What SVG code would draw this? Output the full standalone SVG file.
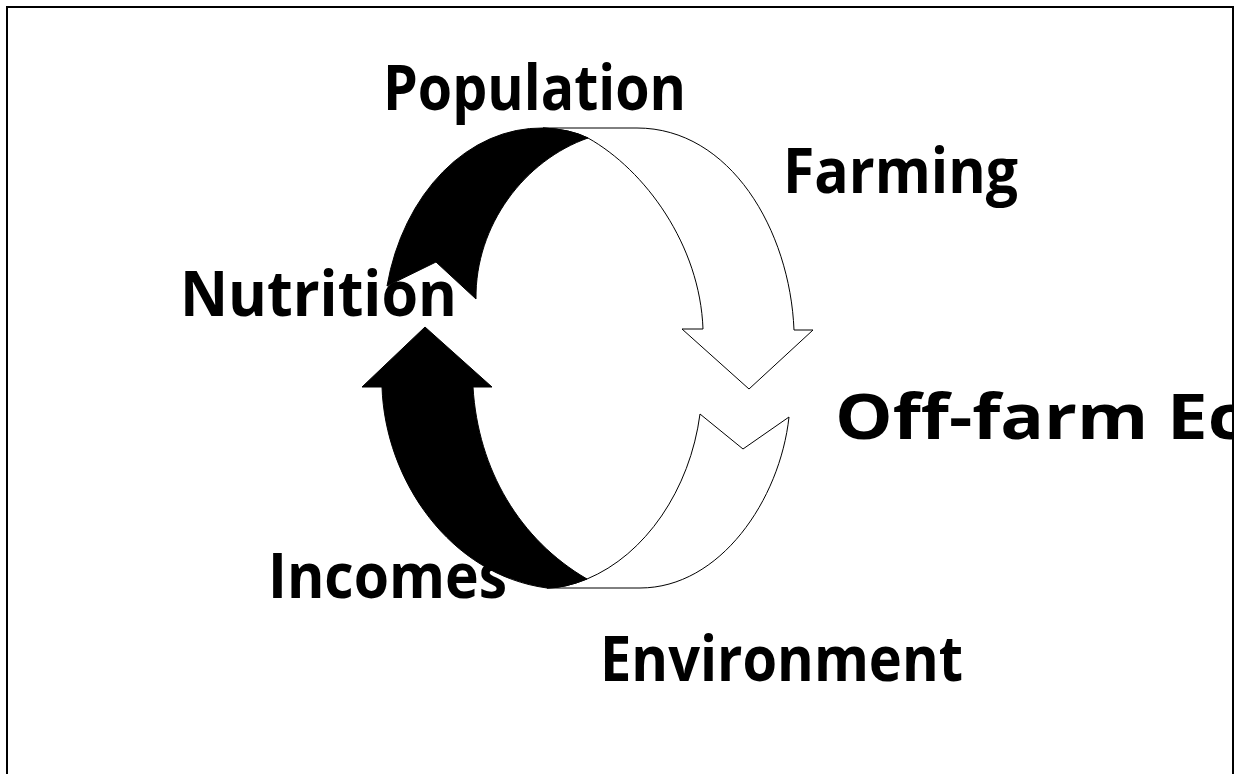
<svg xmlns="http://www.w3.org/2000/svg" width="1239" height="774" viewBox="0 0 1239 774">
<style>
.lbl{font-family:"Open Sans","Noto Sans","Liberation Sans",sans-serif;font-weight:bold;font-size:62px;fill:#000;font-variant-ligatures:none}
.blk{fill:#000;stroke:#000;stroke-width:1}
.wht{fill:#fff;stroke:#000;stroke-width:1;stroke-linejoin:miter}
</style>
<defs>
<clipPath id="frame"><rect x="0" y="0" width="1233" height="774"/></clipPath>
</defs>
<rect x="0" y="0" width="1239" height="774" fill="#fff"/>
<g id="connectors">
<g id="top-arrow">
<path class="wht" d="M543,128 L637,128 C730,128 790,230 794,330 L813,330 L749,389 L682,329 L703,329 C700,245 645,170 588,138 Q570,129 543,128 Z"/>
<path class="blk" d="M387,286 A158 202 0 0 1 543,128 Q570,129 588,138 C525,160 475,225 476,299 L436,262 Z"/>
</g>
<g id="bottom-arrow">
<path class="wht" d="M547,588 L640,588 C720,588 780,500 789,417 L743,449 L700,414 C690,490 645,555 587,579 Q565,588 547,588 Z"/>
<path class="blk" d="M382,387 L362,387 L425,327 L492,387 L473,387 C478,470 520,540 587,579 Q565,588 547,588 C450,575 385,480 382,387 Z"/>
</g>
</g>
<g id="node-population"><text class="lbl" x="383" y="110" textLength="303" lengthAdjust="spacingAndGlyphs">Population</text></g>
<g id="node-farming"><text class="lbl" x="783" y="193" textLength="235" lengthAdjust="spacingAndGlyphs">Farming</text></g>
<g id="node-nutrition"><text class="lbl" x="180" y="316" textLength="277" lengthAdjust="spacingAndGlyphs">Nutrition</text></g>
<g id="node-offfarm" clip-path="url(#frame)"><text class="lbl" x="835" y="439" textLength="410" lengthAdjust="spacingAndGlyphs">Off-farm Ec</text></g>
<g id="node-incomes"><text class="lbl" x="268" y="598" textLength="239" lengthAdjust="spacingAndGlyphs">Incomes</text></g>
<g id="node-environment"><text class="lbl" x="600" y="681" textLength="363" lengthAdjust="spacingAndGlyphs">Environment</text></g>
<rect x="7" y="7" width="1226" height="800" fill="none" stroke="#000" stroke-width="2"/>
</svg>
